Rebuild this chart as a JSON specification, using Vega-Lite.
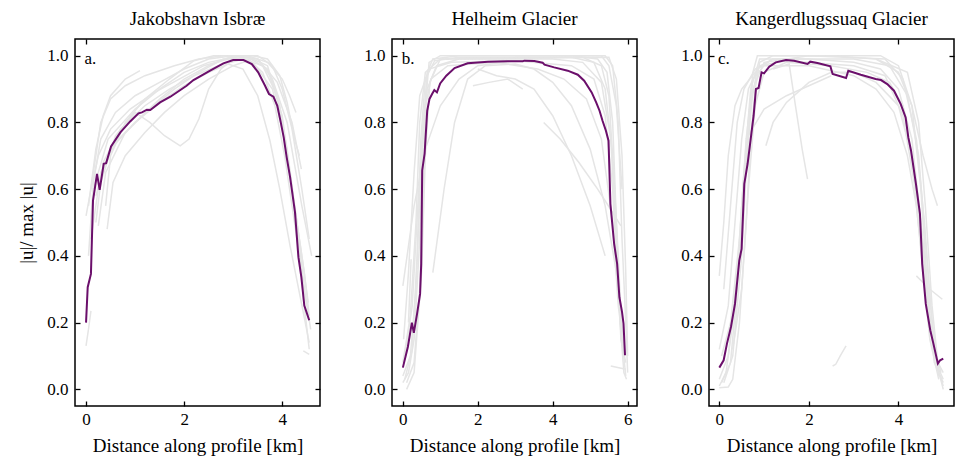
{
 "$schema": "https://vega.github.io/schema/vega-lite/v6.json",
 "padding": {"left": 17, "top": 9, "right": 0, "bottom": 2},
 "spacing": 41,
 "config": {
  "font": "Liberation Serif, DejaVu Serif, serif",
  "view": {"stroke": "black", "strokeWidth": 1.5},
  "axis": {"grid": false, "domain": false, "tickSize": -5, "tickWidth": 1.3, "tickColor": "black", "labelFontSize": 17, "labelColor": "black", "titleFontSize": 19, "titleFontWeight": "normal", "titleColor": "black", "labelFont": "Liberation Serif, DejaVu Serif, serif", "titleFont": "Liberation Serif, DejaVu Serif, serif"},
  "axisX": {"labelPadding": 10, "titlePadding": 9},
  "axisY": {"labelPadding": 12, "titlePadding": 10},
  "title": {"fontSize": 19, "fontWeight": "normal", "font": "Liberation Serif, DejaVu Serif, serif", "color": "black", "offset": 9}
 },
 "datasets": {
  "jak": [
   {"id":"g1","x":0.05,"y":0.55},{"id":"g1","x":0.2,"y":0.72},{"id":"g1","x":0.35,"y":0.82},{"id":"g1","x":0.5,"y":0.88},{"id":"g1","x":0.8,"y":0.93},{"id":"g1","x":1.1,"y":0.955},
   {"id":"g2","x":0.0,"y":0.13},{"id":"g2","x":0.05,"y":0.18},{"id":"g2","x":0.1,"y":0.235},
   {"id":"g3","x":0.3,"y":0.62},{"id":"g3","x":0.6,"y":0.76},{"id":"g3","x":1.0,"y":0.83},{"id":"g3","x":1.3,"y":0.8},{"id":"g3","x":1.6,"y":0.76},{"id":"g3","x":1.92,"y":0.73},{"id":"g3","x":2.1,"y":0.75},{"id":"g3","x":2.3,"y":0.81},{"id":"g3","x":2.5,"y":0.9},{"id":"g3","x":2.75,"y":0.96},{"id":"g3","x":3.1,"y":1.0},{"id":"g3","x":3.5,"y":0.99},{"id":"g3","x":3.8,"y":0.93},{"id":"g3","x":4.1,"y":0.8},{"id":"g3","x":4.4,"y":0.55},{"id":"g3","x":4.6,"y":0.4},
   {"id":"g4","x":0.1,"y":0.45},{"id":"g4","x":0.3,"y":0.65},{"id":"g4","x":0.6,"y":0.74},{"id":"g4","x":1.0,"y":0.8},{"id":"g4","x":1.5,"y":0.86},{"id":"g4","x":2.0,"y":0.91},{"id":"g4","x":2.5,"y":0.95},{"id":"g4","x":2.9,"y":0.975},{"id":"g4","x":3.2,"y":0.96},{"id":"g4","x":3.5,"y":0.88},{"id":"g4","x":3.75,"y":0.745},{"id":"g4","x":3.95,"y":0.6},{"id":"g4","x":4.16,"y":0.43},{"id":"g4","x":4.43,"y":0.23},{"id":"g4","x":4.55,"y":0.14},
   {"id":"g5","x":0.4,"y":0.55},{"id":"g5","x":0.5,"y":0.7},{"id":"g5","x":0.8,"y":0.8},{"id":"g5","x":1.2,"y":0.87},{"id":"g5","x":1.7,"y":0.93},{"id":"g5","x":2.2,"y":0.985},{"id":"g5","x":2.6,"y":1.0},{"id":"g5","x":3.3,"y":1.0},{"id":"g5","x":3.7,"y":0.98},{"id":"g5","x":4.0,"y":0.93},{"id":"g5","x":4.15,"y":0.88},{"id":"g5","x":4.28,"y":0.83},
   {"id":"g6","x":0.2,"y":0.58},{"id":"g6","x":0.5,"y":0.72},{"id":"g6","x":1.0,"y":0.8},{"id":"g6","x":1.5,"y":0.87},{"id":"g6","x":2.0,"y":0.93},{"id":"g6","x":2.5,"y":0.97},{"id":"g6","x":3.0,"y":1.0},{"id":"g6","x":3.5,"y":0.99},{"id":"g6","x":3.9,"y":0.92},{"id":"g6","x":4.2,"y":0.8},{"id":"g6","x":4.39,"y":0.66},
   {"id":"g7","x":0.15,"y":0.6},{"id":"g7","x":0.45,"y":0.75},{"id":"g7","x":1.0,"y":0.84},{"id":"g7","x":1.5,"y":0.9},{"id":"g7","x":2.0,"y":0.95},{"id":"g7","x":2.5,"y":0.98},{"id":"g7","x":3.0,"y":0.995},{"id":"g7","x":3.4,"y":0.98},{"id":"g7","x":3.8,"y":0.9},{"id":"g7","x":4.05,"y":0.75},{"id":"g7","x":4.25,"y":0.55},{"id":"g7","x":4.4,"y":0.4},{"id":"g7","x":4.53,"y":0.26},
   {"id":"g8","x":0.25,"y":0.49},{"id":"g8","x":0.4,"y":0.65},{"id":"g8","x":0.8,"y":0.77},{"id":"g8","x":1.3,"y":0.84},{"id":"g8","x":1.8,"y":0.9},{"id":"g8","x":2.3,"y":0.95},{"id":"g8","x":2.8,"y":0.99},{"id":"g8","x":3.3,"y":0.995},{"id":"g8","x":3.7,"y":0.96},{"id":"g8","x":4.0,"y":0.82},{"id":"g8","x":4.2,"y":0.6},{"id":"g8","x":4.35,"y":0.4},{"id":"g8","x":4.45,"y":0.25},{"id":"g8","x":4.55,"y":0.12},
   {"id":"g9","x":4.43,"y":0.115},{"id":"g9","x":4.55,"y":0.105},
   {"id":"g10","x":0.43,"y":0.48},{"id":"g10","x":0.55,"y":0.62},{"id":"g10","x":0.8,"y":0.7},{"id":"g10","x":1.2,"y":0.77},{"id":"g10","x":1.6,"y":0.83},{"id":"g10","x":2.0,"y":0.88},{"id":"g10","x":2.5,"y":0.93},{"id":"g10","x":3.0,"y":0.97},{"id":"g10","x":3.4,"y":0.99},{"id":"g10","x":3.7,"y":0.97},{"id":"g10","x":3.95,"y":0.85},{"id":"g10","x":4.15,"y":0.65},{"id":"g10","x":4.3,"y":0.5},{"id":"g10","x":4.45,"y":0.35},{"id":"g10","x":4.55,"y":0.22},
   {"id":"g11","x":0.1,"y":0.6},{"id":"g11","x":0.3,"y":0.8},{"id":"g11","x":0.5,"y":0.87},{"id":"g11","x":0.8,"y":0.91},{"id":"g11","x":1.2,"y":0.94},{"id":"g11","x":1.8,"y":0.97},{"id":"g11","x":2.3,"y":0.99},{"id":"g11","x":2.8,"y":1.0},{"id":"g11","x":3.4,"y":1.0},{"id":"g11","x":3.7,"y":0.99},{"id":"g11","x":3.95,"y":0.94},{"id":"g11","x":4.1,"y":0.86},{"id":"g11","x":4.25,"y":0.75},{"id":"g11","x":4.35,"y":0.7},
   {"id":"g12","x":0.05,"y":0.4},{"id":"g12","x":0.15,"y":0.62},{"id":"g12","x":0.3,"y":0.75},{"id":"g12","x":0.6,"y":0.83},{"id":"g12","x":1.0,"y":0.88},{"id":"g12","x":1.5,"y":0.92},{"id":"g12","x":2.0,"y":0.96},{"id":"g12","x":2.5,"y":0.99},{"id":"g12","x":3.0,"y":1.0},{"id":"g12","x":3.5,"y":1.0},{"id":"g12","x":3.8,"y":0.97},{"id":"g12","x":4.0,"y":0.9},{"id":"g12","x":4.2,"y":0.78},{"id":"g12","x":4.4,"y":0.6},{"id":"g12","x":4.55,"y":0.45},
   {"id":"g13","x":0.2,"y":0.5},{"id":"g13","x":0.35,"y":0.68},{"id":"g13","x":0.7,"y":0.78},{"id":"g13","x":1.2,"y":0.85},{"id":"g13","x":1.7,"y":0.9},{"id":"g13","x":2.2,"y":0.94},{"id":"g13","x":2.7,"y":0.97},{"id":"g13","x":3.2,"y":0.99},{"id":"g13","x":3.6,"y":0.97},{"id":"g13","x":3.9,"y":0.88},{"id":"g13","x":4.1,"y":0.72},{"id":"g13","x":4.3,"y":0.5},{"id":"g13","x":4.45,"y":0.3},{"id":"g13","x":4.58,"y":0.18},
   {"id":"g14","x":0.0,"y":0.52},{"id":"g14","x":0.1,"y":0.6},{"id":"g14","x":0.25,"y":0.7},{"id":"g14","x":0.5,"y":0.78},{"id":"g14","x":0.9,"y":0.84},{"id":"g14","x":1.4,"y":0.89},{"id":"g14","x":1.9,"y":0.93},{"id":"g14","x":2.4,"y":0.97},{"id":"g14","x":2.9,"y":0.99},{"id":"g14","x":3.3,"y":0.99},{"id":"g14","x":3.6,"y":0.95},{"id":"g14","x":3.85,"y":0.85},{"id":"g14","x":4.05,"y":0.7},{"id":"g14","x":4.25,"y":0.5},{"id":"g14","x":4.4,"y":0.35},{"id":"g14","x":4.5,"y":0.25},
   {"id":"main","x":0.0,"y":0.2},{"id":"main","x":0.034,"y":0.306},{"id":"main","x":0.1,"y":0.346},{"id":"main","x":0.142,"y":0.566},{"id":"main","x":0.224,"y":0.646},{"id":"main","x":0.278,"y":0.598},{"id":"main","x":0.36,"y":0.676},{"id":"main","x":0.41,"y":0.678},{"id":"main","x":0.51,"y":0.728},{"id":"main","x":0.7,"y":0.77},{"id":"main","x":0.9,"y":0.803},{"id":"main","x":1.07,"y":0.827},{"id":"main","x":1.14,"y":0.83},{"id":"main","x":1.24,"y":0.838},{"id":"main","x":1.31,"y":0.837},{"id":"main","x":1.51,"y":0.86},{"id":"main","x":1.72,"y":0.877},{"id":"main","x":2.05,"y":0.91},{"id":"main","x":2.19,"y":0.927},{"id":"main","x":2.53,"y":0.955},{"id":"main","x":2.8,"y":0.977},{"id":"main","x":3.0,"y":0.987},{"id":"main","x":3.21,"y":0.987},{"id":"main","x":3.38,"y":0.975},{"id":"main","x":3.51,"y":0.95},{"id":"main","x":3.65,"y":0.91},{"id":"main","x":3.73,"y":0.885},{"id":"main","x":3.82,"y":0.877},{"id":"main","x":3.9,"y":0.85},{"id":"main","x":3.97,"y":0.8},{"id":"main","x":4.03,"y":0.755},{"id":"main","x":4.09,"y":0.696},{"id":"main","x":4.16,"y":0.636},{"id":"main","x":4.26,"y":0.531},{"id":"main","x":4.33,"y":0.396},{"id":"main","x":4.39,"y":0.336},{"id":"main","x":4.45,"y":0.251},{"id":"main","x":4.55,"y":0.207}
  ],
  "hel": [
   {"id":"b1","x":0.0,"y":0.02},{"id":"b1","x":0.15,"y":0.05},{"id":"b1","x":0.3,"y":0.15},{"id":"b1","x":0.45,"y":0.45},{"id":"b1","x":0.55,"y":0.8},{"id":"b1","x":0.65,"y":0.95},{"id":"b1","x":0.8,"y":0.99},{"id":"b1","x":1.5,"y":1.0},{"id":"b1","x":4.5,"y":1.0},{"id":"b1","x":5.2,"y":0.99},{"id":"b1","x":5.45,"y":0.95},{"id":"b1","x":5.6,"y":0.8},{"id":"b1","x":5.7,"y":0.5},{"id":"b1","x":5.8,"y":0.2},{"id":"b1","x":5.9,"y":0.05},{"id":"b1","x":5.97,"y":0.03},
   {"id":"b2","x":0.0,"y":0.04},{"id":"b2","x":0.2,"y":0.1},{"id":"b2","x":0.35,"y":0.3},{"id":"b2","x":0.5,"y":0.7},{"id":"b2","x":0.65,"y":0.9},{"id":"b2","x":0.9,"y":0.97},{"id":"b2","x":1.5,"y":0.99},{"id":"b2","x":4.0,"y":0.99},{"id":"b2","x":4.8,"y":0.98},{"id":"b2","x":5.3,"y":0.92},{"id":"b2","x":5.55,"y":0.75},{"id":"b2","x":5.7,"y":0.45},{"id":"b2","x":5.82,"y":0.15},{"id":"b2","x":5.95,"y":0.08},
   {"id":"b3","x":0.05,"y":0.1},{"id":"b3","x":0.25,"y":0.25},{"id":"b3","x":0.4,"y":0.55},{"id":"b3","x":0.55,"y":0.82},{"id":"b3","x":0.75,"y":0.93},{"id":"b3","x":1.2,"y":0.97},{"id":"b3","x":2.5,"y":0.98},{"id":"b3","x":3.6,"y":0.96},{"id":"b3","x":4.3,"y":0.93},{"id":"b3","x":4.9,"y":0.87},{"id":"b3","x":5.3,"y":0.75},{"id":"b3","x":5.6,"y":0.5},{"id":"b3","x":5.75,"y":0.25},{"id":"b3","x":5.9,"y":0.12},
   {"id":"b4","x":0.0,"y":0.31},{"id":"b4","x":0.3,"y":0.55},{"id":"b4","x":0.6,"y":0.72},{"id":"b4","x":1.0,"y":0.85},{"id":"b4","x":1.5,"y":0.93},{"id":"b4","x":2.0,"y":0.97},{"id":"b4","x":3.0,"y":0.985},
   {"id":"b5","x":0.8,"y":0.35},{"id":"b5","x":1.1,"y":0.6},{"id":"b5","x":1.38,"y":0.8},{"id":"b5","x":1.73,"y":0.93},{"id":"b5","x":2.2,"y":0.97},{"id":"b5","x":3.0,"y":0.975},{"id":"b5","x":3.5,"y":0.96},{"id":"b5","x":4.0,"y":0.92},{"id":"b5","x":4.5,"y":0.85},{"id":"b5","x":5.0,"y":0.72},{"id":"b5","x":5.4,"y":0.55},{"id":"b5","x":5.7,"y":0.35},{"id":"b5","x":5.9,"y":0.1},
   {"id":"b6","x":1.87,"y":0.91},{"id":"b6","x":2.3,"y":0.92},{"id":"b6","x":2.8,"y":0.93},{"id":"b6","x":3.2,"y":0.9},
   {"id":"b7","x":3.76,"y":0.8},{"id":"b7","x":4.2,"y":0.75},{"id":"b7","x":4.7,"y":0.68},{"id":"b7","x":5.2,"y":0.6},{"id":"b7","x":5.6,"y":0.53},{"id":"b7","x":5.82,"y":0.49},
   {"id":"b8","x":2.0,"y":0.96},{"id":"b8","x":2.5,"y":0.94},{"id":"b8","x":3.0,"y":0.93},{"id":"b8","x":3.5,"y":0.9},{"id":"b8","x":4.0,"y":0.82},{"id":"b8","x":4.5,"y":0.7},{"id":"b8","x":5.0,"y":0.55},{"id":"b8","x":5.4,"y":0.4},
   {"id":"b9","x":3.0,"y":1.0},{"id":"b9","x":4.5,"y":1.0},{"id":"b9","x":5.3,"y":1.0},{"id":"b9","x":5.5,"y":0.97},{"id":"b9","x":5.7,"y":0.85},{"id":"b9","x":5.85,"y":0.6},
   {"id":"b10","x":0.1,"y":0.02},{"id":"b10","x":0.3,"y":0.08},{"id":"b10","x":0.45,"y":0.3},{"id":"b10","x":0.55,"y":0.6},{"id":"b10","x":0.6,"y":0.85},{"id":"b10","x":0.7,"y":0.98},{"id":"b10","x":1.0,"y":1.0},{"id":"b10","x":5.4,"y":1.0},{"id":"b10","x":5.6,"y":0.97},{"id":"b10","x":5.75,"y":0.8},{"id":"b10","x":5.85,"y":0.45},{"id":"b10","x":5.95,"y":0.2},{"id":"b10","x":6.0,"y":0.05},
   {"id":"b11","x":0.15,"y":0.2},{"id":"b11","x":0.22,"y":0.39},
   {"id":"b12","x":5.55,"y":0.07},{"id":"b12","x":5.95,"y":0.06},
   {"id":"b13","x":0.05,"y":0.03},{"id":"b13","x":0.25,"y":0.12},{"id":"b13","x":0.38,"y":0.4},{"id":"b13","x":0.48,"y":0.75},{"id":"b13","x":0.6,"y":0.93},{"id":"b13","x":0.85,"y":0.985},{"id":"b13","x":1.5,"y":0.995},{"id":"b13","x":4.5,"y":0.995},{"id":"b13","x":5.1,"y":0.98},{"id":"b13","x":5.4,"y":0.9},{"id":"b13","x":5.6,"y":0.7},{"id":"b13","x":5.75,"y":0.4},{"id":"b13","x":5.85,"y":0.15},{"id":"b13","x":5.95,"y":0.04},
   {"id":"b14","x":0.0,"y":0.08},{"id":"b14","x":0.2,"y":0.22},{"id":"b14","x":0.35,"y":0.5},{"id":"b14","x":0.45,"y":0.8},{"id":"b14","x":0.6,"y":0.95},{"id":"b14","x":1.0,"y":0.99},{"id":"b14","x":4.8,"y":0.995},{"id":"b14","x":5.3,"y":0.97},{"id":"b14","x":5.5,"y":0.88},{"id":"b14","x":5.65,"y":0.6},{"id":"b14","x":5.78,"y":0.3},{"id":"b14","x":5.9,"y":0.1},
   {"id":"b15","x":0.02,"y":0.15},{"id":"b15","x":0.15,"y":0.35},{"id":"b15","x":0.3,"y":0.65},{"id":"b15","x":0.45,"y":0.88},{"id":"b15","x":0.7,"y":0.96},{"id":"b15","x":1.3,"y":0.98},{"id":"b15","x":3.0,"y":0.985},{"id":"b15","x":4.5,"y":0.97},{"id":"b15","x":5.1,"y":0.93},{"id":"b15","x":5.4,"y":0.82},{"id":"b15","x":5.6,"y":0.6},{"id":"b15","x":5.72,"y":0.35},{"id":"b15","x":5.85,"y":0.13},
   {"id":"b16","x":0.1,"y":0.0},{"id":"b16","x":0.3,"y":0.05},{"id":"b16","x":0.5,"y":0.35},{"id":"b16","x":0.6,"y":0.7},{"id":"b16","x":0.72,"y":0.92},{"id":"b16","x":1.0,"y":0.99},{"id":"b16","x":5.5,"y":0.995},{"id":"b16","x":5.7,"y":0.93},{"id":"b16","x":5.85,"y":0.7},{"id":"b16","x":5.95,"y":0.35},{"id":"b16","x":6.0,"y":0.1},
   {"id":"main","x":0.0,"y":0.065},{"id":"main","x":0.133,"y":0.127},{"id":"main","x":0.24,"y":0.2},{"id":"main","x":0.293,"y":0.169},{"id":"main","x":0.38,"y":0.227},{"id":"main","x":0.46,"y":0.286},{"id":"main","x":0.49,"y":0.376},{"id":"main","x":0.516,"y":0.656},{"id":"main","x":0.58,"y":0.706},{"id":"main","x":0.65,"y":0.835},{"id":"main","x":0.71,"y":0.87},{"id":"main","x":0.78,"y":0.885},{"id":"main","x":0.84,"y":0.897},{"id":"main","x":0.91,"y":0.89},{"id":"main","x":0.996,"y":0.917},{"id":"main","x":1.16,"y":0.94},{"id":"main","x":1.38,"y":0.963},{"id":"main","x":1.73,"y":0.977},{"id":"main","x":2.27,"y":0.982},{"id":"main","x":2.8,"y":0.983},{"id":"main","x":3.2,"y":0.983},{"id":"main","x":3.24,"y":0.985},{"id":"main","x":3.51,"y":0.984},{"id":"main","x":3.73,"y":0.979},{"id":"main","x":3.78,"y":0.973},{"id":"main","x":4.04,"y":0.965},{"id":"main","x":4.4,"y":0.955},{"id":"main","x":4.67,"y":0.943},{"id":"main","x":4.84,"y":0.925},{"id":"main","x":5.04,"y":0.89},{"id":"main","x":5.16,"y":0.86},{"id":"main","x":5.25,"y":0.835},{"id":"main","x":5.33,"y":0.805},{"id":"main","x":5.42,"y":0.775},{"id":"main","x":5.49,"y":0.745},{"id":"main","x":5.54,"y":0.556},{"id":"main","x":5.57,"y":0.52},{"id":"main","x":5.64,"y":0.436},{"id":"main","x":5.72,"y":0.376},{"id":"main","x":5.78,"y":0.276},{"id":"main","x":5.85,"y":0.232},{"id":"main","x":5.89,"y":0.197},{"id":"main","x":5.93,"y":0.102}
  ],
  "kan": [
   {"id":"c1","x":0.0,"y":0.01},{"id":"c1","x":0.15,"y":0.05},{"id":"c1","x":0.3,"y":0.2},{"id":"c1","x":0.5,"y":0.5},{"id":"c1","x":0.65,"y":0.8},{"id":"c1","x":0.75,"y":0.95},{"id":"c1","x":0.85,"y":1.0},{"id":"c1","x":3.0,"y":1.0},{"id":"c1","x":3.6,"y":1.0},{"id":"c1","x":4.0,"y":0.97},{"id":"c1","x":4.3,"y":0.85},{"id":"c1","x":4.5,"y":0.6},{"id":"c1","x":4.65,"y":0.3},{"id":"c1","x":4.8,"y":0.08},{"id":"c1","x":5.0,"y":0.02},
   {"id":"c2","x":0.0,"y":0.03},{"id":"c2","x":0.2,"y":0.1},{"id":"c2","x":0.4,"y":0.35},{"id":"c2","x":0.55,"y":0.65},{"id":"c2","x":0.7,"y":0.9},{"id":"c2","x":0.9,"y":0.99},{"id":"c2","x":2.0,"y":0.99},{"id":"c2","x":3.0,"y":0.98},{"id":"c2","x":3.6,"y":0.96},{"id":"c2","x":4.0,"y":0.9},{"id":"c2","x":4.3,"y":0.75},{"id":"c2","x":4.5,"y":0.5},{"id":"c2","x":4.7,"y":0.2},{"id":"c2","x":4.9,"y":0.06},{"id":"c2","x":5.0,"y":0.03},
   {"id":"c3","x":0.05,"y":0.1},{"id":"c3","x":0.25,"y":0.2},{"id":"c3","x":0.45,"y":0.45},{"id":"c3","x":0.6,"y":0.75},{"id":"c3","x":0.75,"y":0.93},{"id":"c3","x":1.0,"y":0.97},{"id":"c3","x":2.0,"y":0.97},{"id":"c3","x":3.0,"y":0.94},{"id":"c3","x":3.5,"y":0.9},{"id":"c3","x":3.9,"y":0.83},{"id":"c3","x":4.2,"y":0.7},{"id":"c3","x":4.4,"y":0.55},{"id":"c3","x":4.6,"y":0.3},{"id":"c3","x":4.8,"y":0.1},{"id":"c3","x":5.0,"y":0.05},
   {"id":"c4","x":0.0,"y":0.34},{"id":"c4","x":0.1,"y":0.5},{"id":"c4","x":0.2,"y":0.7},{"id":"c4","x":0.35,"y":0.85},{"id":"c4","x":0.5,"y":0.9},{"id":"c4","x":0.8,"y":0.95},
   {"id":"c5","x":0.6,"y":0.75},{"id":"c5","x":1.0,"y":0.84},{"id":"c5","x":1.5,"y":0.88},{"id":"c5","x":2.0,"y":0.91},{"id":"c5","x":2.5,"y":0.94},
   {"id":"c6","x":1.04,"y":0.73},{"id":"c6","x":1.2,"y":0.8},{"id":"c6","x":1.5,"y":0.86},{"id":"c6","x":2.0,"y":0.92},{"id":"c6","x":2.5,"y":0.95},{"id":"c6","x":3.0,"y":0.95},{"id":"c6","x":3.5,"y":0.92},{"id":"c6","x":4.0,"y":0.85},{"id":"c6","x":4.3,"y":0.7},{"id":"c6","x":4.5,"y":0.5},{"id":"c6","x":4.7,"y":0.25},
   {"id":"c7","x":1.2,"y":0.96},{"id":"c7","x":1.56,"y":0.975},{"id":"c7","x":1.7,"y":0.85},{"id":"c7","x":1.85,"y":0.72},{"id":"c7","x":1.97,"y":0.63},
   {"id":"c8","x":2.53,"y":0.07},{"id":"c8","x":2.6,"y":0.075},{"id":"c8","x":2.7,"y":0.1},{"id":"c8","x":2.83,"y":0.13},
   {"id":"c9","x":3.5,"y":0.99},{"id":"c9","x":4.0,"y":0.95},{"id":"c9","x":4.3,"y":0.85},{"id":"c9","x":4.55,"y":0.7},{"id":"c9","x":4.75,"y":0.6},{"id":"c9","x":4.87,"y":0.55},
   {"id":"c10","x":4.4,"y":0.34},{"id":"c10","x":4.7,"y":0.3},{"id":"c10","x":4.98,"y":0.27},
   {"id":"c11","x":0.0,"y":0.005},{"id":"c11","x":0.2,"y":0.007},{"id":"c11","x":0.3,"y":0.03},{"id":"c11","x":0.45,"y":0.2},{"id":"c11","x":0.6,"y":0.5},{"id":"c11","x":0.7,"y":0.75},{"id":"c11","x":0.8,"y":0.9},{"id":"c11","x":0.9,"y":0.98},{"id":"c11","x":1.2,"y":1.0},{"id":"c11","x":2.5,"y":1.0},{"id":"c11","x":3.5,"y":0.99},{"id":"c11","x":4.2,"y":0.95},{"id":"c11","x":4.45,"y":0.8},{"id":"c11","x":4.6,"y":0.55},{"id":"c11","x":4.75,"y":0.25},{"id":"c11","x":4.9,"y":0.05},{"id":"c11","x":5.0,"y":0.01},
   {"id":"c12","x":0.3,"y":0.12},{"id":"c12","x":0.5,"y":0.3},{"id":"c12","x":0.65,"y":0.6},{"id":"c12","x":0.8,"y":0.85},{"id":"c12","x":1.0,"y":0.95},{"id":"c12","x":1.5,"y":0.98},{"id":"c12","x":2.5,"y":0.97},{"id":"c12","x":3.3,"y":0.95},{"id":"c12","x":3.8,"y":0.92},{"id":"c12","x":4.1,"y":0.85},{"id":"c12","x":4.35,"y":0.65},{"id":"c12","x":4.55,"y":0.4},{"id":"c12","x":4.75,"y":0.15},{"id":"c12","x":4.95,"y":0.05},
   {"id":"c13","x":0.1,"y":0.3},{"id":"c13","x":0.25,"y":0.55},{"id":"c13","x":0.4,"y":0.8},{"id":"c13","x":0.55,"y":0.9},{"id":"c13","x":0.8,"y":0.96},{"id":"c13","x":1.2,"y":0.99},
   {"id":"c14","x":0.05,"y":0.02},{"id":"c14","x":0.25,"y":0.08},{"id":"c14","x":0.4,"y":0.3},{"id":"c14","x":0.55,"y":0.6},{"id":"c14","x":0.7,"y":0.85},{"id":"c14","x":0.85,"y":0.96},{"id":"c14","x":1.2,"y":0.99},{"id":"c14","x":3.0,"y":0.99},{"id":"c14","x":3.8,"y":0.97},{"id":"c14","x":4.2,"y":0.88},{"id":"c14","x":4.45,"y":0.7},{"id":"c14","x":4.6,"y":0.45},{"id":"c14","x":4.75,"y":0.2},{"id":"c14","x":4.9,"y":0.04},
   {"id":"c15","x":0.0,"y":0.12},{"id":"c15","x":0.2,"y":0.25},{"id":"c15","x":0.35,"y":0.5},{"id":"c15","x":0.5,"y":0.75},{"id":"c15","x":0.65,"y":0.9},{"id":"c15","x":0.9,"y":0.97},{"id":"c15","x":1.5,"y":0.985},{"id":"c15","x":3.0,"y":0.97},{"id":"c15","x":3.7,"y":0.94},{"id":"c15","x":4.1,"y":0.82},{"id":"c15","x":4.35,"y":0.62},{"id":"c15","x":4.55,"y":0.35},{"id":"c15","x":4.7,"y":0.15},{"id":"c15","x":4.9,"y":0.03},
   {"id":"c16","x":0.1,"y":0.02},{"id":"c16","x":0.3,"y":0.1},{"id":"c16","x":0.5,"y":0.4},{"id":"c16","x":0.62,"y":0.7},{"id":"c16","x":0.75,"y":0.9},{"id":"c16","x":1.0,"y":0.98},{"id":"c16","x":2.0,"y":1.0},{"id":"c16","x":3.7,"y":0.99},{"id":"c16","x":4.1,"y":0.93},{"id":"c16","x":4.4,"y":0.75},{"id":"c16","x":4.58,"y":0.5},{"id":"c16","x":4.72,"y":0.25},{"id":"c16","x":4.85,"y":0.08},{"id":"c16","x":5.0,"y":0.0},
   {"id":"main","x":0.0,"y":0.065},{"id":"main","x":0.097,"y":0.087},{"id":"main","x":0.171,"y":0.137},{"id":"main","x":0.26,"y":0.187},{"id":"main","x":0.35,"y":0.256},{"id":"main","x":0.446,"y":0.386},{"id":"main","x":0.498,"y":0.421},{"id":"main","x":0.558,"y":0.616},{"id":"main","x":0.632,"y":0.676},{"id":"main","x":0.766,"y":0.82},{"id":"main","x":0.818,"y":0.9},{"id":"main","x":0.877,"y":0.903},{"id":"main","x":0.944,"y":0.95},{"id":"main","x":1.0,"y":0.947},{"id":"main","x":1.115,"y":0.967},{"id":"main","x":1.26,"y":0.98},{"id":"main","x":1.49,"y":0.987},{"id":"main","x":1.67,"y":0.985},{"id":"main","x":1.97,"y":0.975},{"id":"main","x":2.03,"y":0.982},{"id":"main","x":2.19,"y":0.978},{"id":"main","x":2.48,"y":0.968},{"id":"main","x":2.53,"y":0.945},{"id":"main","x":2.83,"y":0.933},{"id":"main","x":2.88,"y":0.955},{"id":"main","x":3.16,"y":0.943},{"id":"main","x":3.49,"y":0.93},{"id":"main","x":3.61,"y":0.927},{"id":"main","x":3.75,"y":0.915},{"id":"main","x":3.9,"y":0.895},{"id":"main","x":4.05,"y":0.855},{"id":"main","x":4.16,"y":0.815},{"id":"main","x":4.22,"y":0.755},{"id":"main","x":4.28,"y":0.716},{"id":"main","x":4.39,"y":0.616},{"id":"main","x":4.48,"y":0.526},{"id":"main","x":4.53,"y":0.376},{"id":"main","x":4.61,"y":0.256},{"id":"main","x":4.71,"y":0.177},{"id":"main","x":4.78,"y":0.137},{"id":"main","x":4.88,"y":0.077},{"id":"main","x":4.93,"y":0.087},{"id":"main","x":5.0,"y":0.092}
  ]
 },
 "hconcat": [
  {
   "width": 245, "height": 367,
   "title": "Jakobshavn Isbræ",
   "data": {"name": "jak"},
   "resolve": {"axis": {"x": "independent", "y": "independent"}},
   "layer": [
    {"transform": [{"filter": "datum.id !== 'main'"}],
     "mark": {"type": "line", "color": "#e5e5e5", "strokeWidth": 1.5},
     "encoding": {
      "x": {"field": "x", "type": "quantitative", "scale": {"domain": [-0.225, 4.77], "nice": false, "zero": false}, "axis": {"values": [0, 2, 4], "title": "Distance along profile [km]"}},
      "y": {"field": "y", "type": "quantitative", "scale": {"domain": [-0.05, 1.05], "nice": false, "zero": false}, "axis": {"values": [0, 0.2, 0.4, 0.6, 0.8, 1.0], "format": ".1f", "title": "|u|/ max |u|"}},
      "detail": {"field": "id"}}},
    {"transform": [{"filter": "datum.id === 'main'"}],
     "mark": {"type": "line", "color": "#6b0f6b", "strokeWidth": 2},
     "encoding": {
      "x": {"field": "x", "type": "quantitative", "axis": {"orient": "top", "values": [0, 2, 4], "labels": false, "title": null}},
      "y": {"field": "y", "type": "quantitative", "axis": {"orient": "right", "values": [0, 0.2, 0.4, 0.6, 0.8, 1.0], "labels": false, "title": null}}}},
    {"data": {"values": [{"x": -0.03, "y": 0.975, "t": "a."}]},
     "mark": {"type": "text", "align": "left", "baseline": "alphabetic", "fontSize": 17, "font": "Liberation Serif, DejaVu Serif, serif", "color": "black"},
     "encoding": {"x": {"field": "x", "type": "quantitative", "axis": null}, "y": {"field": "y", "type": "quantitative", "axis": null}, "text": {"field": "t"}}}
   ]
  },
  {
   "width": 245, "height": 367,
   "title": "Helheim Glacier",
   "data": {"name": "hel"},
   "resolve": {"axis": {"x": "independent", "y": "independent"}},
   "layer": [
    {"transform": [{"filter": "datum.id !== 'main'"}],
     "mark": {"type": "line", "color": "#e5e5e5", "strokeWidth": 1.5},
     "encoding": {
      "x": {"field": "x", "type": "quantitative", "scale": {"domain": [-0.29, 6.25], "nice": false, "zero": false}, "axis": {"values": [0, 2, 4, 6], "title": "Distance along profile [km]"}},
      "y": {"field": "y", "type": "quantitative", "scale": {"domain": [-0.05, 1.05], "nice": false, "zero": false}, "axis": {"values": [0, 0.2, 0.4, 0.6, 0.8, 1.0], "format": ".1f", "title": null}},
      "detail": {"field": "id"}}},
    {"transform": [{"filter": "datum.id === 'main'"}],
     "mark": {"type": "line", "color": "#6b0f6b", "strokeWidth": 2},
     "encoding": {
      "x": {"field": "x", "type": "quantitative", "axis": {"orient": "top", "values": [0, 2, 4, 6], "labels": false, "title": null}},
      "y": {"field": "y", "type": "quantitative", "axis": {"orient": "right", "values": [0, 0.2, 0.4, 0.6, 0.8, 1.0], "labels": false, "title": null}}}},
    {"data": {"values": [{"x": -0.03, "y": 0.975, "t": "b."}]},
     "mark": {"type": "text", "align": "left", "baseline": "alphabetic", "fontSize": 17, "font": "Liberation Serif, DejaVu Serif, serif", "color": "black"},
     "encoding": {"x": {"field": "x", "type": "quantitative", "axis": null}, "y": {"field": "y", "type": "quantitative", "axis": null}, "text": {"field": "t"}}}
   ]
  },
  {
   "width": 245, "height": 367,
   "title": "Kangerdlugssuaq Glacier",
   "data": {"name": "kan"},
   "resolve": {"axis": {"x": "independent", "y": "independent"}},
   "layer": [
    {"transform": [{"filter": "datum.id !== 'main'"}],
     "mark": {"type": "line", "color": "#e5e5e5", "strokeWidth": 1.5},
     "encoding": {
      "x": {"field": "x", "type": "quantitative", "scale": {"domain": [-0.23, 5.24], "nice": false, "zero": false}, "axis": {"values": [0, 2, 4], "title": "Distance along profile [km]"}},
      "y": {"field": "y", "type": "quantitative", "scale": {"domain": [-0.05, 1.05], "nice": false, "zero": false}, "axis": {"values": [0, 0.2, 0.4, 0.6, 0.8, 1.0], "format": ".1f", "title": null}},
      "detail": {"field": "id"}}},
    {"transform": [{"filter": "datum.id === 'main'"}],
     "mark": {"type": "line", "color": "#6b0f6b", "strokeWidth": 2},
     "encoding": {
      "x": {"field": "x", "type": "quantitative", "axis": {"orient": "top", "values": [0, 2, 4], "labels": false, "title": null}},
      "y": {"field": "y", "type": "quantitative", "axis": {"orient": "right", "values": [0, 0.2, 0.4, 0.6, 0.8, 1.0], "labels": false, "title": null}}}},
    {"data": {"values": [{"x": -0.03, "y": 0.975, "t": "c."}]},
     "mark": {"type": "text", "align": "left", "baseline": "alphabetic", "fontSize": 17, "font": "Liberation Serif, DejaVu Serif, serif", "color": "black"},
     "encoding": {"x": {"field": "x", "type": "quantitative", "axis": null}, "y": {"field": "y", "type": "quantitative", "axis": null}, "text": {"field": "t"}}}
   ]
  }
 ]
}
